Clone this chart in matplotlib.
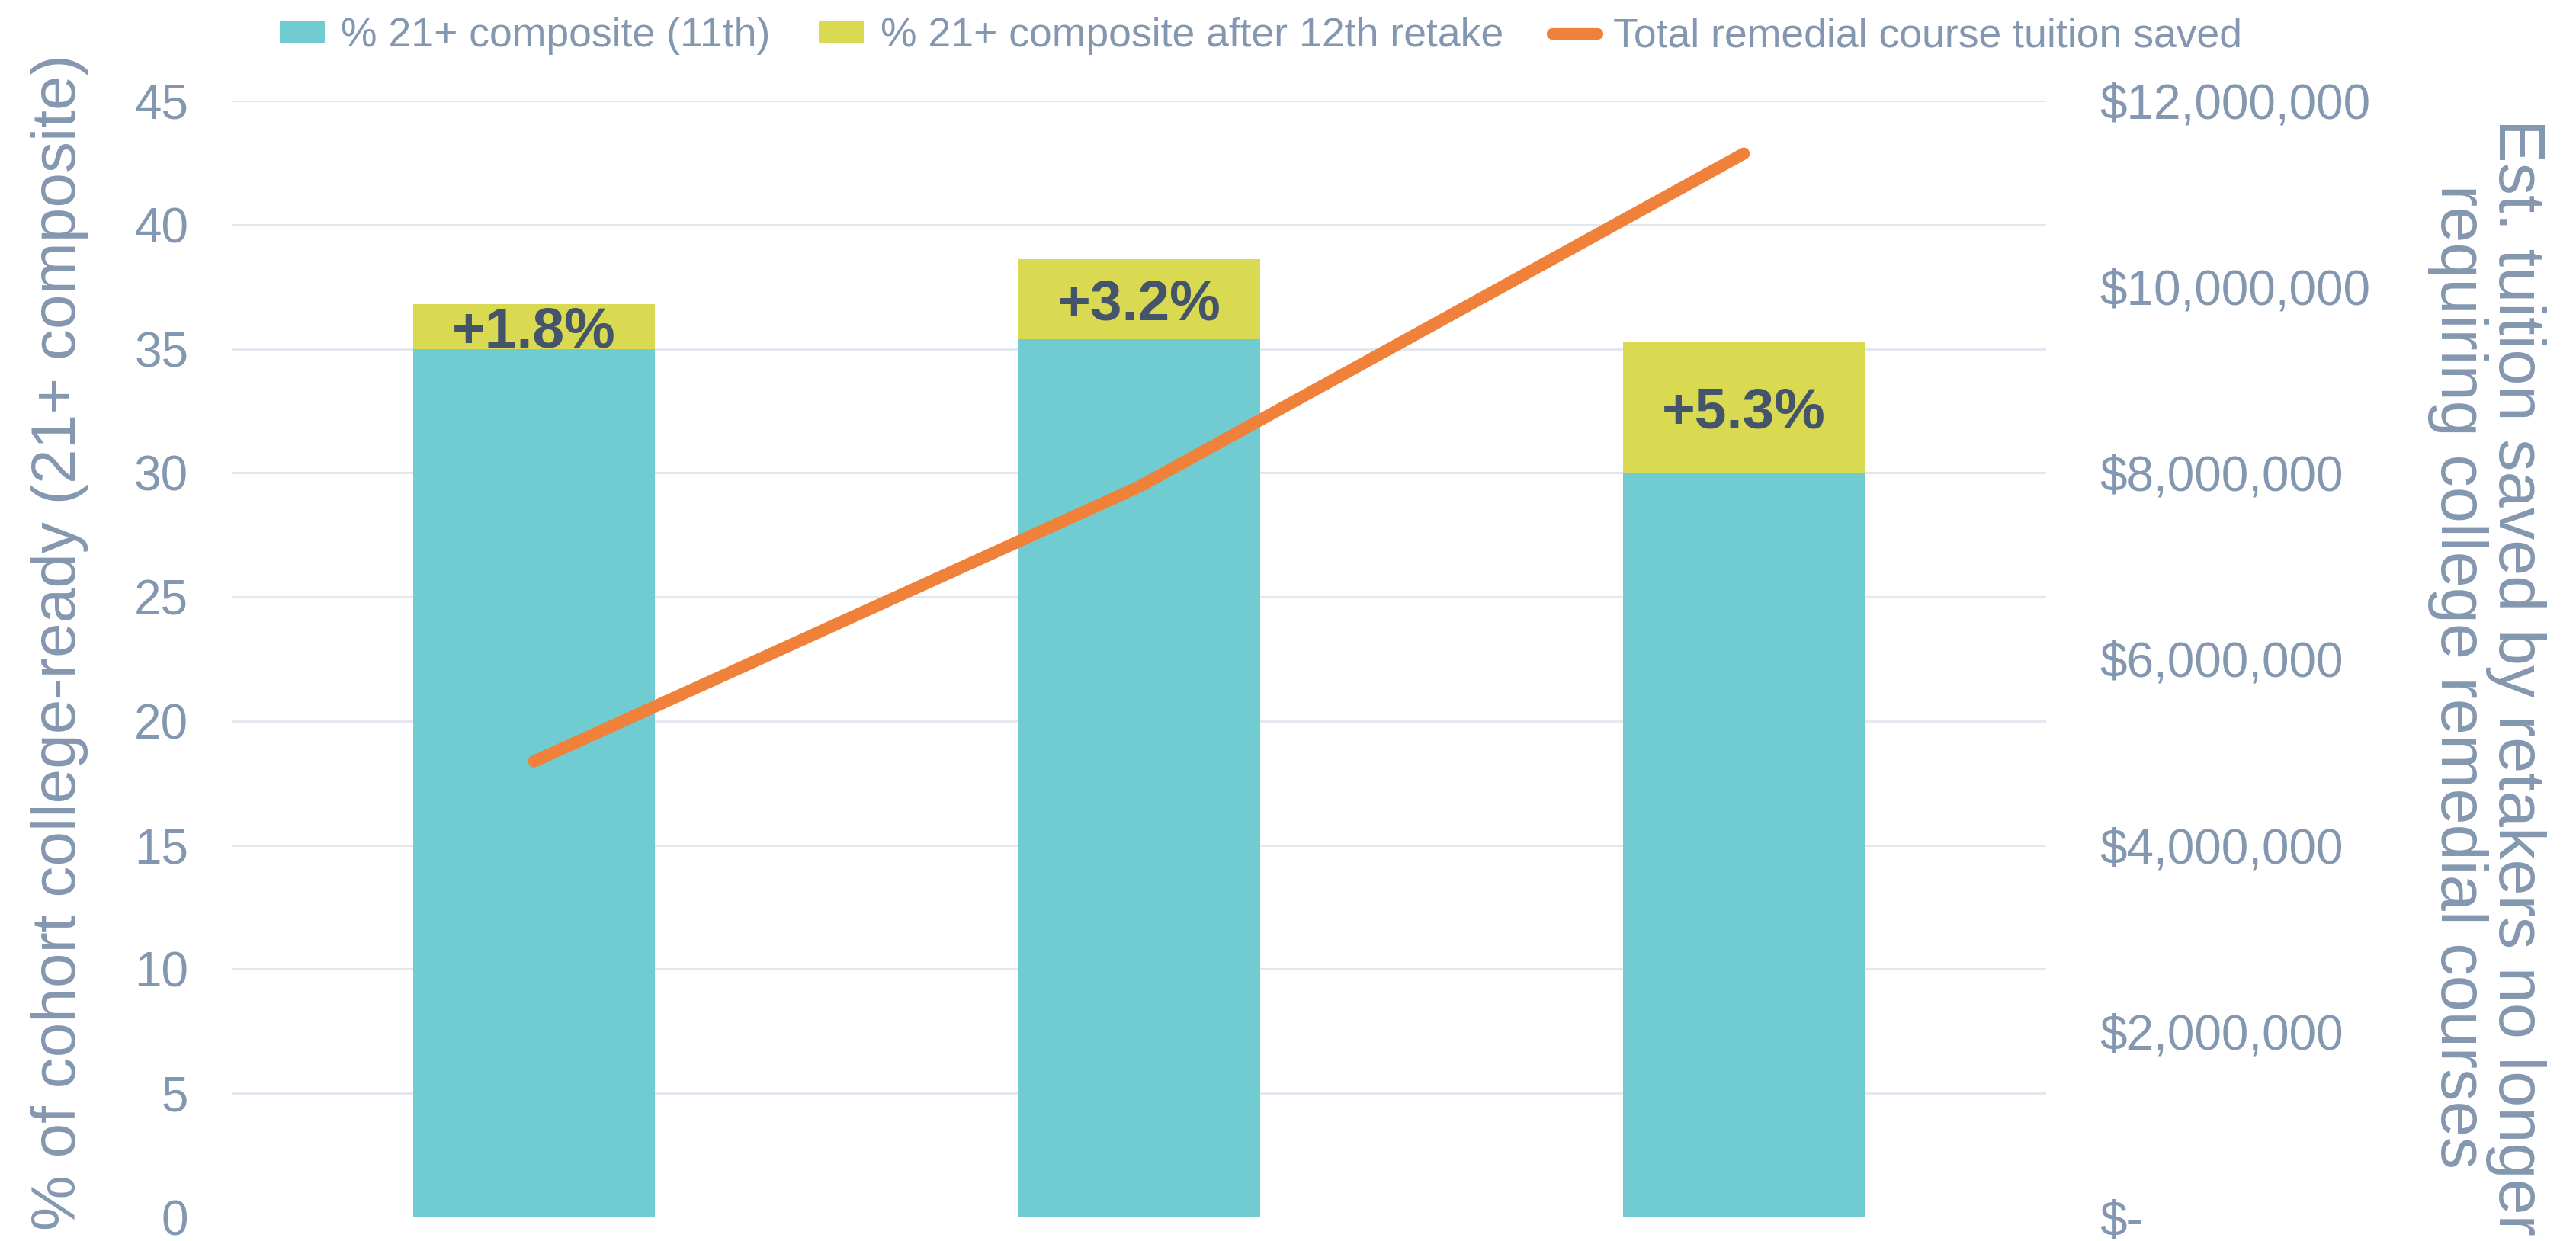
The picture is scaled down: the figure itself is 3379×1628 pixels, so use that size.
import numpy as np
import matplotlib
matplotlib.use("Agg")
import matplotlib.pyplot as plt
from matplotlib.ticker import FuncFormatter, MultipleLocator
from matplotlib.lines import Line2D
from matplotlib.patches import Patch

plt.rcParams['font.family'] = ['Liberation Sans', 'DejaVu Sans']

# --- data ---
categories = ["A", "B", "C"]
pct_11th = [35.0, 35.4, 30.0]
pct_retake_gain = [1.8, 3.2, 5.3]
tuition_saved = [4.9e6, 7.85e6, 11.43e6]
gain_labels = ["+1.8%", "+3.2%", "+5.3%"]

legend_names = ["% 21+ composite (11th)",
                "% 21+ composite after 12th retake",
                "Total remedial course tuition saved"]

# --- colours ---
teal = "#70CCD1"
yellow = "#DAD952"
orange = "#F0813A"
axis_text = "#8497B0"
label_dark = "#44546A"
grid_col = "#E3E7EE"

fig = plt.figure(figsize=(33.8, 16.28), dpi=100)
ax = fig.add_axes([304 / 3380, 1 - 1597 / 1628, (2684 - 304) / 3380, (1597 - 132) / 1628])

x = np.arange(len(categories))
ax.bar(x, pct_11th, width=0.4, color=teal, zorder=2)
ax.bar(x, pct_retake_gain, width=0.4, bottom=pct_11th, color=yellow, zorder=2)

# data labels in the retake segment
for i in range(len(x)):
    mid = pct_11th[i] + pct_retake_gain[i] / 2
    ax.text(x[i], mid, gain_labels[i], ha="center", va="center_baseline",
            fontsize=54, fontweight="bold", color=label_dark, zorder=4)

ax.set_xlim(-0.5, len(categories) - 0.5)
ax.set_ylim(0, 45)
ax.yaxis.set_major_locator(MultipleLocator(5))
ax.grid(axis="y", color=grid_col, linewidth=2.2, zorder=0)
ax.set_axisbelow(True)
ax.set_xticks([])
for s in ax.spines.values():
    s.set_visible(False)
ax.tick_params(axis="y", length=0, pad=41, labelsize=46, labelcolor=axis_text)

# secondary axis for tuition
ax2 = ax.twinx()
ax2.plot(x, tuition_saved, color=orange, linewidth=11.5, solid_capstyle="round",
         solid_joinstyle="round", zorder=5)
ax2.set_ylim(0, 12e6)
ax2.yaxis.set_major_locator(MultipleLocator(2e6))
ax2.yaxis.set_major_formatter(FuncFormatter(lambda v, p: "$-" if v == 0 else "${:,.0f}".format(v)))
ax2.tick_params(axis="y", length=0, pad=51, labelsize=46, labelcolor=axis_text)
for s in ax2.spines.values():
    s.set_visible(False)

# axis titles
fig.text(78 / 3380, 1 - 843 / 1628, "% of cohort college-ready (21+ composite)",
         rotation=90, ha="center", va="center", fontsize=59, color=axis_text)
fig.text(3262 / 3380, 1 - 888 / 1628,
         "Est. tuition saved by retakers no longer\nrequiring college remedial courses",
         rotation=270, ha="center", va="center", multialignment="center",
         fontsize=61, color=axis_text, linespacing=0.95)

# legend
handles = [Patch(facecolor=teal), Patch(facecolor=yellow),
           Line2D([0], [0], color=orange, linewidth=11, solid_capstyle="round")]
fig.legend(handles, legend_names, loc="center", bbox_to_anchor=(1654 / 3380, 1 - 47 / 1628),
           ncol=3, frameon=False, fontsize=38.5, labelcolor=axis_text,
           handlelength=1.1, handleheight=0.5, handletextpad=0.4, columnspacing=1.2)

fig.savefig("out.png", dpi=100)
